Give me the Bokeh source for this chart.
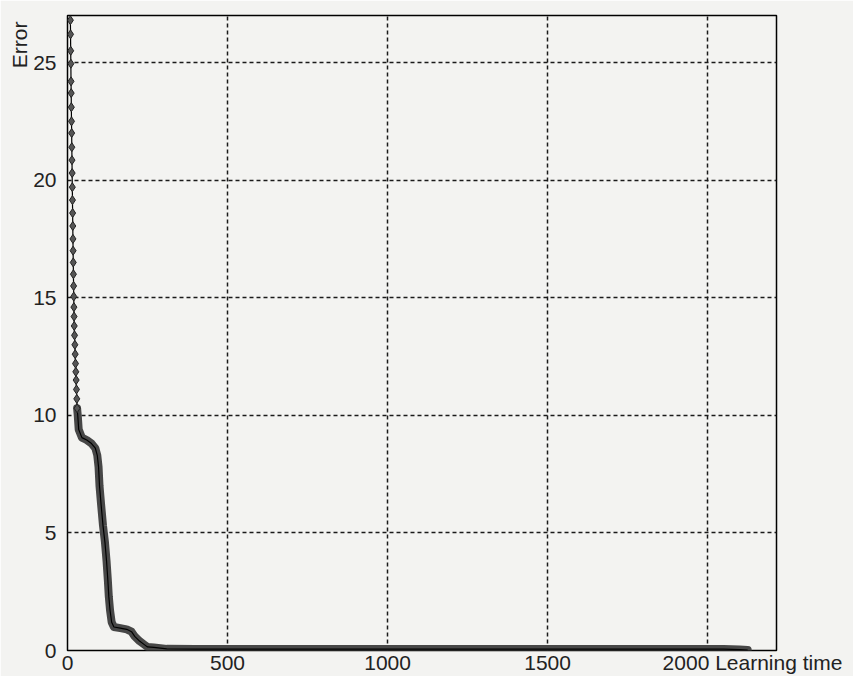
from bokeh.plotting import figure
from bokeh.models import Range1d, FixedTicker, Title
from bokeh.embed import file_html
from bokeh.resources import INLINE

# Early epochs: distinct markers on the thin line
top_x = [9, 9.5, 10, 10.5, 11, 11.5, 12, 12.5, 13, 13.5, 14, 14.5, 15, 15.5, 16, 16.5, 17,
         17.5, 18, 18.5, 19, 19.5, 20, 20.5, 21, 22, 23, 24, 25, 26, 27, 28, 29, 30]
top_y = [26.8, 26.2, 25.5, 24.95, 24.2, 23.7, 23.1, 22.5, 22.0, 21.4, 20.85, 20.3, 19.7,
         19.15, 18.6, 18.05, 17.5, 17.0, 16.5, 16.0, 15.5, 15.05, 14.6, 14.2, 13.8, 13.4,
         13.0, 12.6, 12.2, 11.85, 11.5, 11.1, 10.7, 10.3]

# Later epochs: markers so dense they merge into a thick band
band_x = [30, 32, 35, 45, 60, 75, 87, 93, 97, 100, 105, 111, 117, 122, 126, 129, 133, 138,
          145, 165, 185, 200, 210, 225, 240, 250, 270, 310, 400, 700, 1000, 1300, 1600,
          1900, 2050, 2100, 2125]
band_y = [10.3, 10.0, 9.4, 9.05, 8.95, 8.8, 8.6, 8.3, 7.8, 7.0, 6.2, 5.3, 4.6, 3.8, 3.0,
          2.3, 1.7, 1.2, 1.0, 0.95, 0.9, 0.8, 0.6, 0.4, 0.25, 0.15, 0.13, 0.07, 0.06, 0.06,
          0.06, 0.06, 0.06, 0.06, 0.06, 0.04, 0.02]

grid_x = [0, 500, 1000, 1500, 2000]
y_ticks = [0, 5, 10, 15, 20, 25]
# axis tick label positions; the last label carries the axis name beside "2000"
x_label_pos = [0, 500, 1000, 1500, 2140]
x_label_txt = ["0", "500", "1000", "1500", "2000 Learning time"]
x_max = 2215
y_max = 27

FONT = "Liberation Sans"
BG = "#f3f3f1"
TXT = "#222222"

p = figure(width=853, height=676, output_backend="svg", toolbar_location=None,
           x_range=Range1d(0, x_max), y_range=Range1d(0, y_max),
           min_border_left=67, min_border_right=77, min_border_top=15, min_border_bottom=23)
p.background_fill_color = BG
p.border_fill_color = BG
p.outline_line_color = "black"
p.outline_line_width = 1.5

for ax in (p.xaxis[0], p.yaxis[0]):
    ax.axis_line_color = None
    ax.major_tick_line_color = None
    ax.minor_tick_line_color = None
    ax.major_tick_out = 0
    ax.major_tick_in = 0
    ax.minor_tick_out = 0
    ax.minor_tick_in = 0
    ax.major_label_text_font = FONT
    ax.major_label_text_font_size = "21px"
    ax.major_label_text_color = TXT
p.xaxis.ticker = FixedTicker(ticks=x_label_pos)
p.xaxis.major_label_overrides = dict(zip(x_label_pos, x_label_txt))
p.yaxis.ticker = FixedTicker(ticks=y_ticks)
p.xaxis.major_label_standoff = 0
p.yaxis.major_label_standoff = 11

for g in (p.xgrid[0], p.ygrid[0]):
    g.grid_line_color = "#1a1a1a"
    g.grid_line_dash = "4 3"
    g.grid_line_width = 1.5
p.xgrid.ticker = FixedTicker(ticks=grid_x)
p.ygrid.ticker = FixedTicker(ticks=y_ticks)

# thick band for dense part
p.line(band_x, band_y, line_color="#474747", line_width=8, line_join="round", line_cap="round")
# thin line through all
p.line(top_x + band_x, top_y + band_y, line_color="black", line_width=1.2)
p.scatter(top_x, top_y, marker="diamond", size=9, fill_color="#555555", line_color="#222222")

p.add_layout(Title(text="Error", align="right", text_font=FONT, text_font_size="21px",
                   text_font_style="normal", text_color=TXT, standoff=0, offset=6), "left")

open("out.html", "w").write(file_html(p, INLINE))
